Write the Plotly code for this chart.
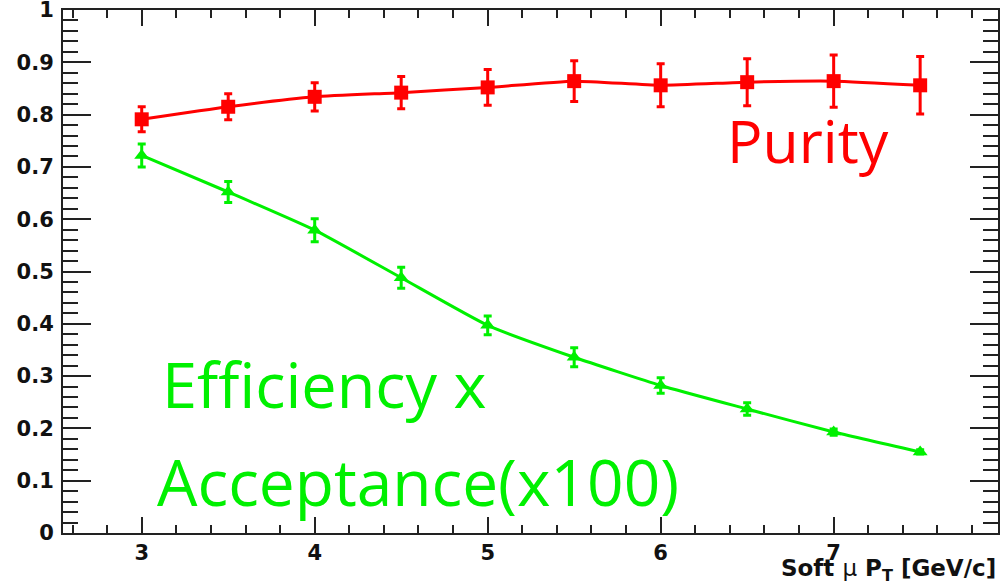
import plotly.graph_objects as go

# ---- data ----
pt_bins = [3.0, 3.5, 4.0, 4.5, 5.0, 5.5, 6.0, 6.5, 7.0, 7.5]
purity = [0.791, 0.815, 0.834, 0.842, 0.852, 0.864, 0.856, 0.862, 0.864, 0.856]
purity_err = [0.024, 0.025, 0.027, 0.031, 0.034, 0.039, 0.041, 0.045, 0.050, 0.055]
eff_acc = [0.722, 0.652, 0.579, 0.488, 0.397, 0.336, 0.282, 0.237, 0.193, 0.155]
eff_acc_err = [0.022, 0.020, 0.022, 0.020, 0.018, 0.018, 0.015, 0.012, 0.006, 0.004]

x_ticks = [3, 4, 5, 6, 7]
x_tick_text = ["3", "4", "5", "6", "7"]
y_ticks = [0, 0.1, 0.2, 0.3, 0.4, 0.5, 0.6, 0.7, 0.8, 0.9, 1.0]
y_tick_text = ["0", "0.1", "0.2", "0.3", "0.4", "0.5", "0.6", "0.7", "0.8", "0.9", "1"]

red = "#ff0000"
green = "#00f000"
axis_col = "#222222"

fig = go.Figure()
fig.add_trace(go.Scatter(
    x=pt_bins, y=purity, mode="lines+markers",
    line=dict(color=red, width=3, shape="spline", smoothing=0.5),
    marker=dict(symbol="square", size=14, color=red),
    error_y=dict(type="data", array=purity_err, color=red, thickness=3, width=4),
    showlegend=False))
fig.add_trace(go.Scatter(
    x=pt_bins, y=eff_acc, mode="lines+markers",
    line=dict(color=green, width=3, shape="spline", smoothing=0.5),
    marker=dict(symbol="triangle-up", size=13, color=green),
    error_y=dict(type="data", array=eff_acc_err, color=green, thickness=3, width=4),
    showlegend=False))

tickfont = dict(family="DejaVu Sans", size=21, color="#111111", weight="bold")

fig.update_layout(
    width=1001, height=583,
    margin=dict(l=63, r=3, t=10, b=50),
    paper_bgcolor="white", plot_bgcolor="white",
    xaxis=dict(
        range=[2.545, 7.95], tickvals=x_ticks, ticktext=x_tick_text,
        ticks="inside", ticklen=16, tickwidth=2, tickcolor=axis_col,
        showline=True, linewidth=2, linecolor=axis_col, mirror="allticks",
        showgrid=False, zeroline=False, tickfont=tickfont, ticklabelstandoff=0,
        automargin=False,
        minor=dict(dtick=0.2, tick0=0, ticks="inside", ticklen=8, tickwidth=2,
                   tickcolor=axis_col, showgrid=False),
    ),
    yaxis=dict(
        range=[0, 1.0], tickvals=y_ticks, ticktext=y_tick_text,
        ticks="inside", ticklen=28, tickwidth=2, tickcolor=axis_col,
        showline=True, linewidth=2, linecolor=axis_col, mirror="allticks",
        showgrid=False, zeroline=False, tickfont=tickfont, ticklabelstandoff=3,
        ticklabeloverflow="allow", automargin=False,
        minor=dict(dtick=0.02, tick0=0, ticks="inside", ticklen=15, tickwidth=2,
                   tickcolor=axis_col, showgrid=False),
    ),
)

label_font = "Open Sans"
fig.add_annotation(xref="paper", yref="paper", x=0.708, y=0.752,
                   xanchor="left", yanchor="middle", showarrow=False,
                   text="Purity", font=dict(family=label_font, size=59, color=red))
fig.add_annotation(xref="paper", yref="paper", x=0.104, y=0.286,
                   xanchor="left", yanchor="middle", showarrow=False,
                   text="Efficiency x", font=dict(family=label_font, size=63, color=green))
fig.add_annotation(xref="paper", yref="paper", x=0.098, y=0.098,
                   xanchor="left", yanchor="middle", showarrow=False,
                   text="Acceptance(x100)", font=dict(family=label_font, size=64, color=green))
fig.add_annotation(xref="paper", yref="paper", x=1.0, y=-0.070,
                   xanchor="right", yanchor="middle", showarrow=False,
                   text="Soft <span style='font-weight:normal'>μ</span> P<sub>T</sub> [GeV/c]",
                   font=dict(family="DejaVu Sans", size=23, color="#111111", weight="bold"))

fig.write_html("out.html")
